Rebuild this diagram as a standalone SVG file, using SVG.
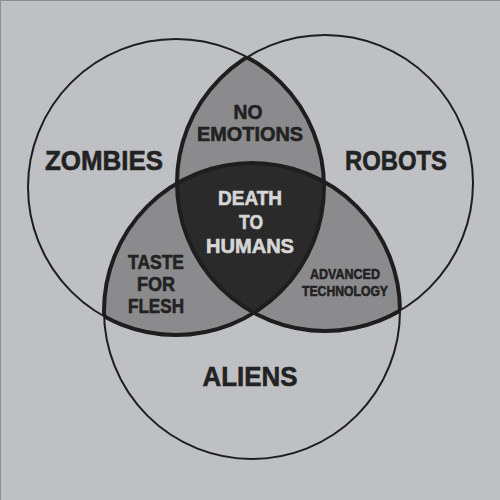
<svg xmlns="http://www.w3.org/2000/svg" width="500" height="500" viewBox="0 0 500 500">
<defs>
<clipPath id="cA"><circle cx="176" cy="187" r="148"/></clipPath>
<clipPath id="cB"><circle cx="325" cy="183" r="148"/></clipPath>
<clipPath id="cBC"><circle cx="325" cy="183" r="148"/><circle cx="252" cy="311" r="148"/></clipPath>
<clipPath id="cAC"><circle cx="176" cy="187" r="148"/><circle cx="252" cy="311" r="148"/></clipPath>
<clipPath id="cAB"><circle cx="176" cy="187" r="148"/><circle cx="325" cy="183" r="148"/></clipPath>
<style>
.ring{fill:none;stroke:#1e1e1e;stroke-width:2}
.thick{fill:none;stroke:#1e1e1e;stroke-width:4}
.mid{fill:#8b8b8d}
.core{fill:#2a2a2a}
text{font-family:"Liberation Sans",Arial,sans-serif;font-weight:700;text-anchor:middle;fill:#222;stroke:#222;stroke-width:0.6}
.big{font-size:28px}
.med{font-size:19.5px}
.sm{font-size:15px}
.light{fill:#d6d6d6;stroke:#d6d6d6}
</style>
</defs>
<rect x="0" y="0" width="500" height="500" fill="#bfc0c4"/>
<line x1="0" y1="0.5" x2="500" y2="0.5" stroke="#8d8e92" stroke-width="1"/>
<line x1="0.5" y1="0" x2="0.5" y2="500" stroke="#8d8e92" stroke-width="1"/>

<g id="regions">
<g clip-path="url(#cA)"><circle class="mid" cx="325" cy="183" r="148"/><circle class="mid" cx="252" cy="311" r="148"/></g>
<g clip-path="url(#cB)"><circle class="mid" cx="252" cy="311" r="148"/></g>
<g clip-path="url(#cA)"><g clip-path="url(#cB)"><circle class="core" cx="252" cy="311" r="148"/></g></g>
</g>

<g id="zombies">
<circle class="ring" cx="176" cy="187" r="148"/>
<circle class="thick" cx="176" cy="187" r="148" clip-path="url(#cBC)"/>
<text class="big" x="104" y="170" textLength="118" lengthAdjust="spacingAndGlyphs">ZOMBIES</text>
</g>
<g id="robots">
<circle class="ring" cx="325" cy="183" r="148"/>
<circle class="thick" cx="325" cy="183" r="148" clip-path="url(#cAC)"/>
<text class="big" x="396" y="170" textLength="102" lengthAdjust="spacingAndGlyphs">ROBOTS</text>
</g>
<g id="aliens">
<circle class="ring" cx="252" cy="311" r="148"/>
<circle class="thick" cx="252" cy="311" r="148" clip-path="url(#cAB)"/>
<text class="big" x="250" y="386" textLength="95" lengthAdjust="spacingAndGlyphs">ALIENS</text>
</g>

<g id="no-emotions">
<text class="med" x="248" y="119" textLength="29" lengthAdjust="spacingAndGlyphs">NO</text>
<text class="med" x="250" y="141" textLength="106" lengthAdjust="spacingAndGlyphs">EMOTIONS</text>
</g>
<g id="death-to-humans">
<text class="med light" x="250" y="205" textLength="64" lengthAdjust="spacingAndGlyphs">DEATH</text>
<text class="med light" x="251" y="229" textLength="24" lengthAdjust="spacingAndGlyphs">TO</text>
<text class="med light" x="250" y="253" textLength="88" lengthAdjust="spacingAndGlyphs">HUMANS</text>
</g>
<g id="taste-for-flesh">
<text class="med" x="156" y="269" textLength="56" lengthAdjust="spacingAndGlyphs">TASTE</text>
<text class="med" x="156" y="291" textLength="38" lengthAdjust="spacingAndGlyphs">FOR</text>
<text class="med" x="156" y="313" textLength="56" lengthAdjust="spacingAndGlyphs">FLESH</text>
</g>
<g id="advanced-technology">
<text class="sm" x="345" y="279" textLength="70" lengthAdjust="spacingAndGlyphs">ADVANCED</text>
<text class="sm" x="345" y="296" textLength="86" lengthAdjust="spacingAndGlyphs">TECHNOLOGY</text>
</g>
<g id="connectors"/>
</svg>
